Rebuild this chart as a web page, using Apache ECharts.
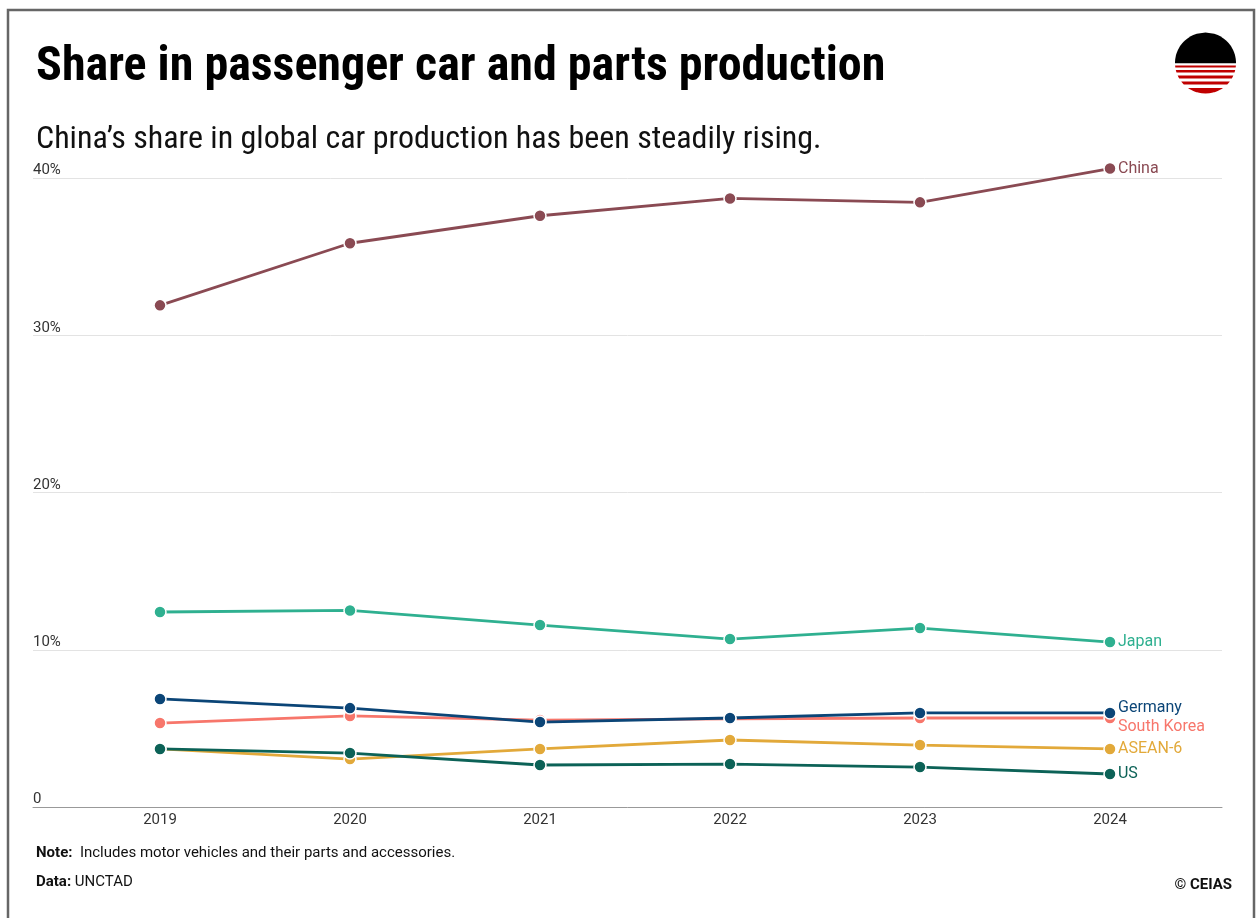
<!DOCTYPE html>
<html>
<head>
<meta charset="utf-8">
<script src="https://cdn.jsdelivr.net/npm/echarts@6/dist/echarts.min.js"></script>
<style>
  html, body { margin: 0; padding: 0; background: #fff; }
  #chart { width: 1259px; height: 918px; }
</style>
</head>
<body>
<div id="chart"></div>
<script>
// Share of global passenger car and parts production, %
const years = [2019, 2020, 2021, 2022, 2023, 2024];
const china = [31.9, 35.85, 37.6, 38.7, 38.45, 40.6];
const japan = [12.4, 12.5, 11.57, 10.68, 11.38, 10.49];
const southKorea = [5.34, 5.79, 5.53, 5.6, 5.66, 5.66];
const germany = [6.87, 6.29, 5.4, 5.66, 5.98, 5.98];
const asean6 = [3.69, 3.05, 3.69, 4.26, 3.94, 3.69];
const us = [3.69, 3.43, 2.67, 2.73, 2.54, 2.1];
const yTicks = [0, 10, 20, 30, 40];

const condensed = '"Roboto Condensed", "Liberation Sans Narrow", "DejaVu Sans Condensed", Roboto, sans-serif';
const sans = 'Roboto, "Liberation Sans", sans-serif';

function pairs(vals) { return years.map((y, i) => [y, vals[i]]); }

function lineSeries(name, vals, color, labelOffsetY) {
  return {
    name: name,
    type: 'line',
    data: pairs(vals),
    clip: false,
    symbol: 'circle',
    symbolSize: 12,
    lineStyle: { color: color, width: 2.8 },
    itemStyle: { color: color, borderColor: '#fff', borderWidth: 1.5 },
    emphasis: { disabled: true },
    endLabel: {
      show: true,
      formatter: name,
      color: color,
      fontFamily: sans,
      fontSize: 16,
      distance: 8,
      offset: [0, labelOffsetY || 0]
    }
  };
}

// Logo: black upper half-disc over red stripes, all inside one circle
function logoElements(cx, cy, r) {
  const els = [];
  const seg = (y1, y2, fill) => {
    const pts = [];
    const n = 24;
    for (let k = 0; k <= n; k++) {
      const y = y1 + (y2 - y1) * k / n;
      const dx = Math.sqrt(Math.max(0, r * r - (y - cy) * (y - cy)));
      pts.push([cx + dx, y]);
    }
    for (let k = n; k >= 0; k--) {
      const y = y1 + (y2 - y1) * k / n;
      const dx = Math.sqrt(Math.max(0, r * r - (y - cy) * (y - cy)));
      pts.push([cx - dx, y]);
    }
    els.push({ type: 'polygon', shape: { points: pts }, style: { fill: fill } });
  };
  seg(cy - r, cy + 0.3, '#000');
  const stripes = [[2.5, 4.5], [7, 9.6], [12.5, 15.5], [18.5, 21.5], [25, r]];
  stripes.forEach(s => seg(cy + s[0], cy + s[1], '#c00000'));
  return els;
}

const chart = echarts.init(document.getElementById('chart'), null, { renderer: 'canvas' });

chart.setOption({
  animation: false,
  backgroundColor: '#fff',
  grid: { left: 33, right: 37, top: 178, bottom: 111, containLabel: false },
  xAxis: {
    type: 'value',
    min: 2018.3316,
    max: 2024.5895,
    splitLine: { show: false },
    axisLine: { show: true, onZero: false, lineStyle: { color: '#999', width: 1 } },
    axisTick: { show: false },
    axisLabel: {
      customValues: years,
      formatter: v => String(v),
      color: '#333',
      fontFamily: sans,
      fontSize: 15,
      margin: 6
    }
  },
  yAxis: {
    type: 'value',
    min: 0,
    max: 40,
    interval: 10,
    axisLine: { show: false },
    axisTick: { show: false },
    splitLine: { show: true, lineStyle: { color: '#e3e3e3', width: 1 } },
    axisLabel: {
      inside: true,
      verticalAlign: 'bottom',
      margin: 0,
      padding: [0, 0, 0, 0],
      color: '#333',
      fontFamily: sans,
      fontSize: 15,
      formatter: v => (v === 0 ? '0' : v + '%')
    }
  },
  series: [
    lineSeries('China', china, '#8a4a53'),
    lineSeries('Japan', japan, '#2fb090'),
    lineSeries('South Korea', southKorea, '#f7766b', 9),
    lineSeries('Germany', germany, '#0b4577', -5),
    lineSeries('ASEAN-6', asean6, '#e2a93a'),
    lineSeries('US', us, '#0c6257')
  ],
  graphic: [
    // frame
    { type: 'rect', shape: { x: 8, y: 10, width: 1246, height: 920 },
      style: { fill: null, stroke: '#666', lineWidth: 2.5 }, silent: true },
    { type: 'text', left: 36, top: 44,
      style: { text: 'Share in passenger car and parts production', fill: '#000',
        font: 'bold 48px ' + condensed } },
    { type: 'text', left: 36, top: 124,
      style: { text: 'China\u2019s share in global car production has been steadily rising.', fill: '#111',
        font: '32px ' + condensed } },
    { type: 'group', children: logoElements(1205.5, 63, 30.5) },
    { type: 'text', left: 36, top: 846,
      style: { rich: { b: { fontWeight: 'bold', fontSize: 15, fontFamily: sans, fill: '#111' },
                       n: { fontSize: 15, fontFamily: sans, fill: '#111' } },
        text: '{b|Note:}{n|  Includes motor vehicles and their parts and accessories.}' } },
    { type: 'text', left: 36, top: 875,
      style: { rich: { b: { fontWeight: 'bold', fontSize: 15, fontFamily: sans, fill: '#111' },
                       n: { fontSize: 15, fontFamily: sans, fill: '#111' } },
        text: '{b|Data:}{n| UNCTAD}' } },
    { type: 'text', right: 27, top: 878,
      style: { text: '\u00a9 CEIAS', fill: '#111', font: 'bold 15px ' + sans } }
  ]
});
</script>
</body>
</html>
